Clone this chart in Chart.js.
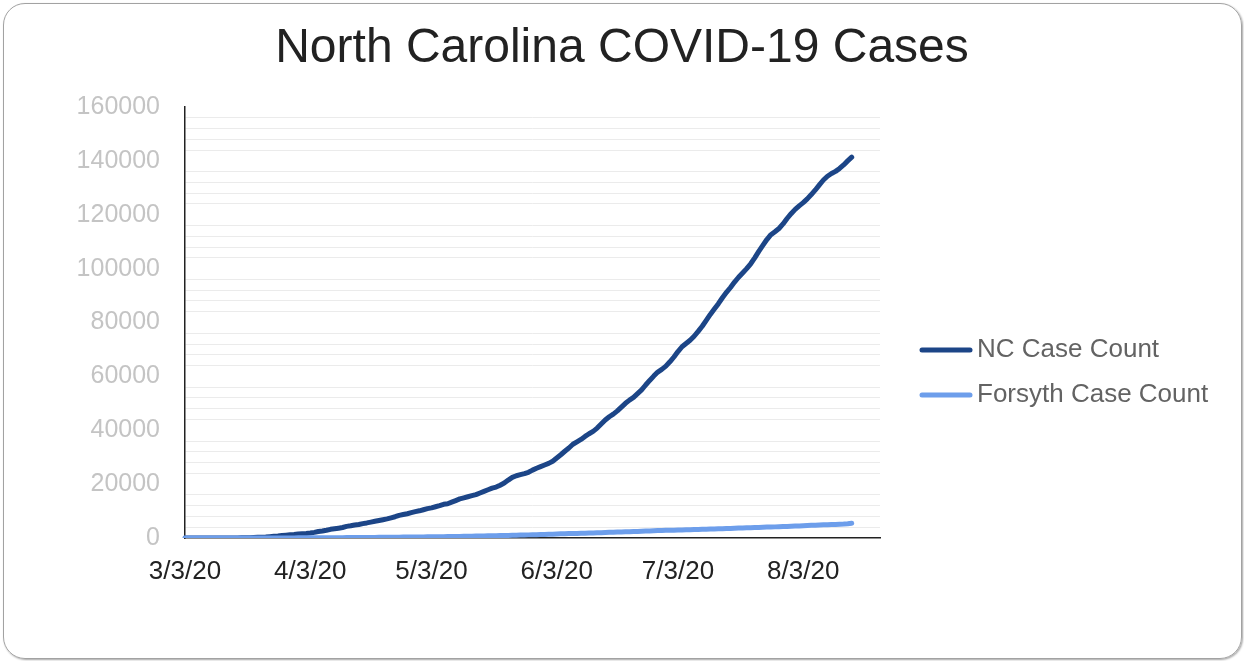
<!DOCTYPE html>
<html>
<head>
<meta charset="utf-8">
<script src="https://cdn.jsdelivr.net/npm/chart.js@4"></script>
<style>
  html, body { margin: 0; padding: 0; background: #fff; }
  body { width: 1244px; height: 661px; position: relative; overflow: hidden; }
  #frame {
    position: absolute; left: 3px; top: 3px; width: 1239px; height: 656px;
    box-sizing: border-box; border: 1.5px solid #a2a2a2; border-radius: 22px;
    box-shadow: 1px 1px 2px rgba(0, 0, 0, 0.35);
  }
  #wrap { position: absolute; left: 0; top: 0; width: 1244px; height: 661px; }
</style>
</head>
<body>
<div id="frame"></div>
<div id="wrap"><canvas id="nc-chart"></canvas></div>
<script>
// daily cumulative counts, 3/3/20 .. 8/15/20
const ncCases = [
    1, 1, 2, 2, 2, 2, 2, 7, 8, 15,
    17, 24, 33, 38, 64, 92, 137, 184, 255, 302,
    353, 495, 636, 763, 935, 1040, 1167, 1313, 1498, 1584,
    1690, 1857, 2093, 2402, 2585, 2870, 3221, 3426, 3651, 3908,
    4312, 4520, 4816, 5024, 5340, 5600, 5900, 6200, 6500, 6800,
    7100, 7500, 7900, 8400, 8700, 9000, 9400, 9800, 10100, 10500,
    10900, 11200, 11600, 12000, 12500, 12700, 13300, 13900, 14500, 14900,
    15300, 15700, 16100, 16700, 17300, 17900, 18500, 18900, 19600, 20400,
    21500, 22500, 23100, 23500, 23900, 24400, 25200, 25900, 26500, 27100,
    27700, 28500, 29700, 30900, 32200, 33400, 34800, 35700, 36600, 37700,
    38700, 39600, 40800, 42300, 43800, 45000, 46000, 47200, 48600, 50000,
    51200, 52200, 53600, 55000, 56800, 58500, 60100, 61600, 62600, 63800,
    65400, 67200, 69200, 71000, 72200, 73400, 74900, 76700, 78600, 80800,
    83000, 85000, 87000, 89200, 91200, 93000, 95000, 96800, 98400, 100000,
    101800, 104000, 106400, 108600, 110800, 112600, 113700, 114900, 116600, 118600,
    120400, 122000, 123300, 124500, 125900, 127500, 129200, 131100, 132900, 134300,
    135300, 136100, 137200, 138500, 140000, 141400
];

const forsythCases = [
    0, 0, 0, 0, 0, 0, 0, 0, 0, 0, 0, 1, 1, 1,
    2, 3, 4, 6, 9, 11, 14,
    17, 20, 24, 30, 36, 40, 45,
    50, 55, 62, 70, 78, 86, 94,
    102, 110, 120, 130, 138, 146, 152,
    160, 170, 185, 200, 212, 225, 240,
    255, 270, 285, 300, 315, 330, 345,
    360, 370, 380, 400, 420, 450, 470,
    490, 510, 530, 550, 570, 600, 620,
    650, 680, 710, 740, 770, 800, 830,
    860, 900, 940, 970, 1000, 1040, 1080,
    1120, 1160, 1200, 1250, 1300, 1340, 1380,
    1430, 1500, 1550, 1590, 1630, 1670, 1710,
    1750, 1800, 1840, 1890, 1940, 1990, 2050,
    2100, 2150, 2200, 2250, 2300, 2340, 2380,
    2430, 2500, 2560, 2620, 2680, 2740, 2800,
    2850, 2890, 2920, 2950, 2990, 3030, 3070,
    3120, 3170, 3220, 3270, 3320, 3370, 3420,
    3470, 3520, 3570, 3620, 3680, 3740, 3790,
    3840, 3890, 3940, 3990, 4040, 4090, 4130,
    4180, 4230, 4290, 4350, 4410, 4470, 4550,
    4620, 4690, 4760, 4830, 4890, 4950, 5000,
    5050, 5110, 5200, 5330, 5500
];

const chartTitle = 'North Carolina COVID-19 Cases';
const seriesNames = ['NC Case Count', 'Forsyth Case Count'];
const seriesColors = ['#1c4587', '#6d9eeb'];
const xTickLabels = ['3/3/20', '4/3/20', '5/3/20', '6/3/20', '7/3/20', '8/3/20'];

// one category per day, axis runs a week past the last data point
const dayLabels = [];
for (let i = 0; i < 173; i++) {
    const d = new Date(2020, 2, 3 + i);
    dayLabels.push(`${d.getMonth() + 1}/${d.getDate()}/20`);
}

const FONT = '"Liberation Sans", Arial, sans-serif';

// title centred on the whole card, legend on the right of the plot
const decorPlugin = {
    id: 'decor',
    afterDraw: function(chart) {
        const ctx = chart.ctx;
        const area = chart.chartArea;
        ctx.save();
        ctx.font = '48px ' + FONT;
        ctx.fillStyle = '#222';
        ctx.textAlign = 'center';
        ctx.textBaseline = 'middle';
        ctx.fillText(chartTitle, chart.width / 2, 49);

        const mid = (area.top + area.bottom) / 2 + 50;
        ctx.font = '26px ' + FONT;
        ctx.textAlign = 'left';
        chart.data.datasets.forEach((dataset, i) => {
            const y = mid + (i - 0.5) * 45;
            ctx.strokeStyle = dataset.borderColor;
            ctx.lineWidth = 5;
            ctx.lineCap = 'round';
            ctx.beginPath();
            ctx.moveTo(area.right + 42, y);
            ctx.lineTo(area.right + 90, y);
            ctx.stroke();
            ctx.fillStyle = '#636363';
            ctx.fillText(dataset.label, area.right + 97, y);
        });
        ctx.restore();
    }
};

const ncCtx = document.getElementById('nc-chart').getContext('2d');

const ncChart = new Chart(ncCtx, {
    type: 'line',
    data: {
        labels: dayLabels,
        datasets: [{
            label: seriesNames[0],
            data: ncCases,
            borderColor: seriesColors[0],
            order: 1,
        }, {
            label: seriesNames[1],
            data: forsythCases,
            borderColor: seriesColors[1],
            order: 0,
        }],
    },
    options: {
        responsive: true,
        maintainAspectRatio: false,
        animation: false,
        layout: {
            padding: { left: 0, right: 364, top: 107, bottom: 0 },
        },
        elements: {
            line: {
                borderWidth: 5,
                tension: 0,
                borderCapStyle: 'round',
                borderJoinStyle: 'round',
            },
            point: { radius: 0, hoverRadius: 0 },
        },
        plugins: {
            legend: { display: false },
            tooltip: { enabled: false },
            title: { display: false },
        },
        scales: {
            x: {
                offset: false,
                grid: { display: false, drawTicks: false },
                border: { display: true, color: '#222', width: 1.5 },
                ticks: {
                    autoSkip: false,
                    maxRotation: 0,
                    minRotation: 0,
                    padding: 18,
                    color: '#222',
                    font: { family: FONT, size: 26 },
                    callback: function(value) {
                        const label = this.getLabelForValue(value);
                        return xTickLabels.includes(label) ? label : '';
                    },
                },
                afterFit: function(scale) {
                    scale.height = 123;
                },
            },
            y: {
                min: 0,
                max: 160000,
                grid: {
                    drawTicks: false,
                    lineWidth: 1,
                    color: (c) => (c.tick && c.tick.value % 20000 === 0) ? 'rgba(0,0,0,0)' : '#ebebeb',
                },
                border: { display: true, color: '#222', width: 1.5 },
                ticks: {
                    stepSize: 4000,
                    autoSkip: false,
                    padding: 25,
                    color: '#c4c4c4',
                    font: { family: FONT, size: 25 },
                    callback: (v) => (v % 20000 === 0 ? String(v) : ''),
                },
                afterFit: function(scale) {
                    scale.width = 185;
                },
            },
        },
    },
    plugins: [decorPlugin],
});
</script>
</body>
</html>
